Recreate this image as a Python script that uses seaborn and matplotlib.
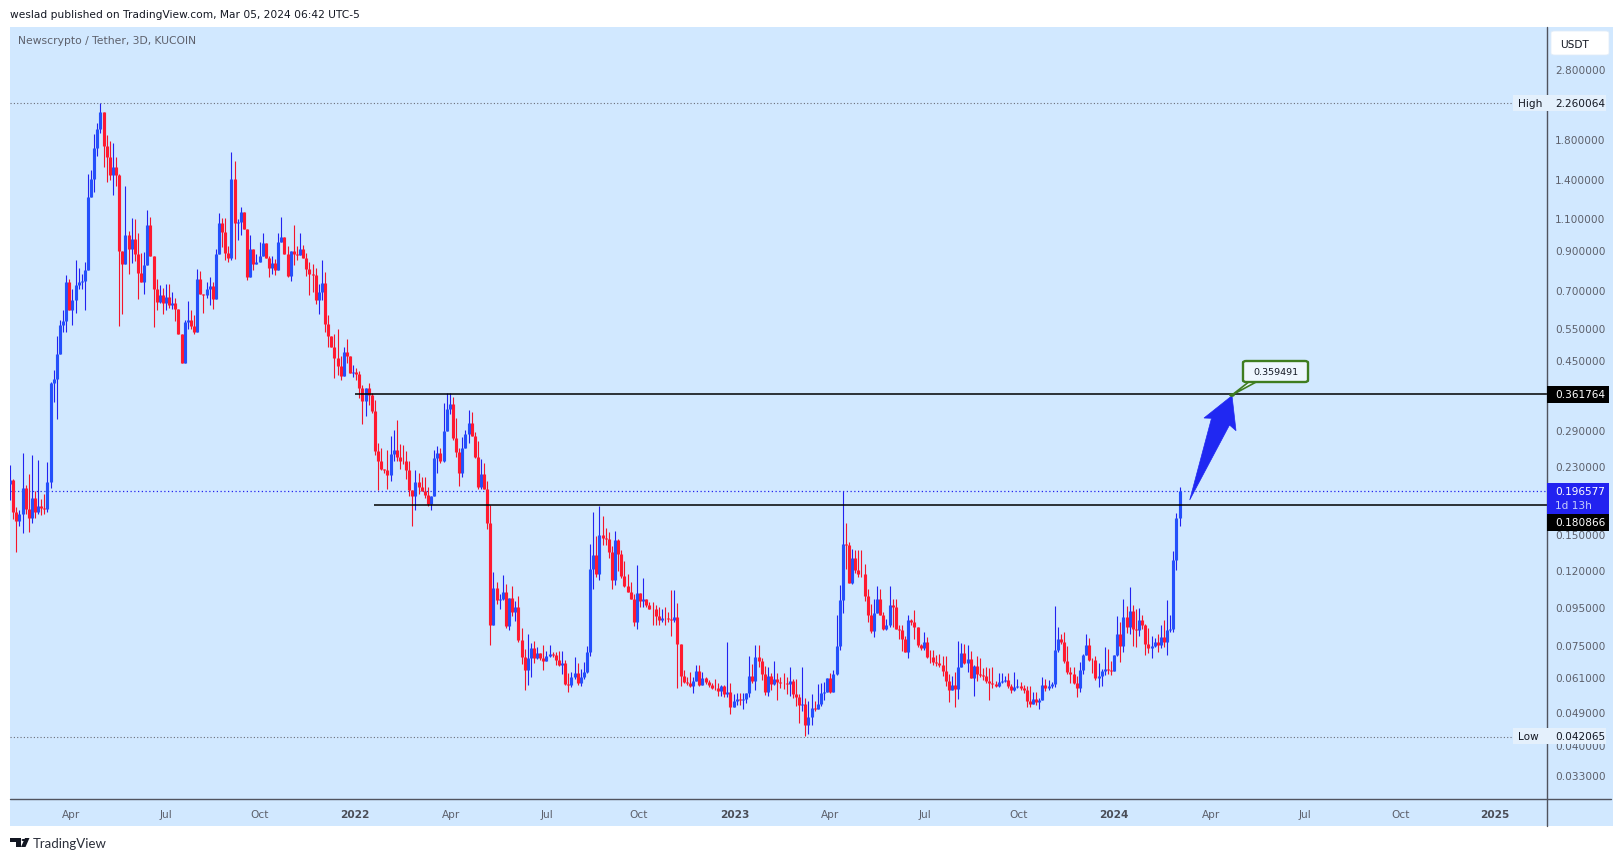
import matplotlib
matplotlib.use("Agg")
import matplotlib.pyplot as plt
import matplotlib.dates as mdates
from matplotlib.patches import Rectangle, FancyBboxPatch, Polygon, Circle
from matplotlib.lines import Line2D
import numpy as np
import pandas as pd
import seaborn as sns

# ---------- data ----------
last_bar = "2024-03-04"
first_open = 0.2055
closes = [
 .2106,.1729,.1635,.1707,.2006,.1762,.1666,.1889,.1729,.1788,
 .1770,.1765,.2085,.3893,.3979,.4672,.5617,.5733,.7335,.6165,
 .6557,.7208,.7335,.7381,.7920,1.2496,1.4035,1.70,1.9275,2.1355,
 1.725,1.610,1.435,1.51,1.435,.8945,.8225,.9875,.901,.9635,
 .875,.777,.7335,.8163,1.05,.8655,.7015,.6473,.6755,.6415,
 .6697,.6363,.6447,.6206,.5287,.4423,.5700,.5775,.5577,.5375,
 .7497,.6805,.6780,.7015,.7135,.6606,.8743,1.0628,1.0083,.8825,
 .8545,1.4055,1.0610,1.0695,1.14,1.0265,.7575,.9033,.8225,.831,
 .8655,.9377,.8525,.801,.8277,.792,.942,.9745,.875,.7645,
 .8945,.875,.8695,.9033,.8525,.7955,.77,.7665,.6534,.6913,
 .73,.5628,.5233,.4865,.4558,.4316,.4070,.4723,.4607,.4138,
 .4155,.4104,.3765,.3464,.3765,.3605,.3260,.2537,.2386,.2266,
 .2252,.2184,.2488,.2558,.2435,.2383,.2373,.2252,.1988,.1915,
 .2092,.2020,.1967,.1923,.1812,.1915,.2422,.2509,.2383,.2867,
 .3306,.3402,.2745,.2525,.2203,.2590,.2819,.3024,.2790,.2443,
 .2020,.2195,.1993,.1610,.0850,.1073,.0993,.1002,.1045,.0841,
 .1003,.0920,.0950,.0773,.0695,.0641,.0690,.0735,.0690,.0713,
 .0688,.0675,.0697,.0709,.0702,.0680,.0659,.0666,.0584,.0580,
 .0611,.0627,.0589,.0611,.0630,.0716,.1203,.1314,.1166,.1491,
 .1470,.1459,.1340,.1125,.1444,.1330,.1155,.1083,.1042,.1002,
 .0862,.1035,.0987,.1001,.0960,.0941,.0937,.0899,.0875,.0889,
 .0887,.0883,.0876,.0894,.0755,.0615,.0593,.0590,.0578,.0595,
 .0637,.0583,.0606,.0593,.0582,.0572,.0570,.0559,.0579,.0549,
 .0557,.0507,.0526,.0531,.0529,.0531,.0553,.0616,.0597,.0695,
 .0678,.0625,.0558,.0615,.0584,.0604,.0593,.0589,.0588,.0584,
 .0595,.0549,.0540,.0514,.0516,.0451,.0475,.0502,.0500,.0516,
 .0553,.0557,.0607,.0557,.0625,.0745,.0992,.1413,.1402,.1105,
 .1297,.1198,.1170,.1167,.1018,.0904,.0819,.0916,.1000,.0904,
 .0827,.0851,.0960,.0950,.0827,.0821,.0776,.0717,.0873,.0862,
 .0836,.0750,.0732,.0763,.0695,.0692,.0674,.0666,.0658,.0637,
 .0597,.0562,.0580,.0568,.0650,.0711,.0669,.0686,.0607,.0654,
 .0625,.0618,.0617,.0597,.0589,.0586,.0579,.0593,.0597,.0601,
 .0579,.0564,.0573,.0577,.0572,.0564,.0526,.0516,.0531,.0523,
 .0529,.0583,.0572,.0579,.0585,.0725,.0776,.0763,.0675,.0630,
 .0625,.0589,.0572,
 .0639,.0701,.0750,.0682,.0680,.0606,.0616,.0635,.0642,.0639,
 .0635,.0704,.0804,.0743,.0890,.0838,.0927,.0826,.0823,.0876,
 .0847,.0755,.0732,.0745,.0763,.0750,.0788,.0764,.0823,.0826,
 .1280,.1665,.1966]
highs = [
 .2315,.2120,.1781,.1745,.2497,.2052,.2188,.2467,.1973,.2400,
 .1873,.1935,.2360,.391,.4207,.523,.577,.6145,.768,.7466,
 .7015,.8447,.8003,.7714,.8301,1.449,1.487,1.866,1.995,2.26,
 2.1355,1.852,1.78,1.765,1.615,1.45,.8945,1.343,1.01,1.10,
 1.09,1.0,.880,.8845,1.155,1.102,.8655,.7466,.7208,.705,
 .7225,.7255,.688,.6645,.6206,.5287,.5775,.6505,.6145,.5955,
 .7977,.7857,.6805,.7335,.7583,.7335,.9027,1.131,1.0955,1.0955,
 .923,1.6646,1.57,1.0925,1.1735,1.14,1.0265,.984,.9033,.875,
 .942,1.0,.9377,.8655,.8655,.8485,1.0,1.102,.9745,.923,
 .8945,1.05,.92,.996,.929,.8825,.831,.8225,.804,.7255,
 .8447,.784,.5955,.5233,.5287,.545,.4595,.4875,.5122,.4607,
 .4346,.428,.4195,.3832,.3765,.3895,.3660,.3497,.2672,.2577,
 .2266,.2554,.2790,.2900,.3077,.2655,.2640,.2537,.2383,.1988,
 .2252,.2203,.2147,.2147,.2020,.1915,.2554,.2618,.2590,.3438,
 .3647,.3647,.3550,.3122,.2590,.2763,.2900,.3290,.3233,.2850,
 .2697,.2405,.2345,.2095,.1805,.1187,.1110,.1030,.1160,.1100,
 .1003,.1085,.0984,.1020,.0833,.0730,.0800,.0758,.0766,.0738,
 .0711,.0749,.0720,.0749,.0716,.0716,.0719,.0719,.0680,.0627,
 .0633,.0695,.0668,.0643,.0674,.0745,.1411,.1727,.1487,.1793,
 .1681,.1563,.1519,.1391,.1528,.1459,.1357,.1272,.1168,.1113,
 .1029,.1238,.1002,.1137,.1001,.0982,.0982,.0960,.0950,.0941,
 .0953,.0921,.1056,.1056,.0976,.0755,.0640,.0610,.0633,.0610,
 .0659,.0659,.0633,.0611,.0600,.0589,.0604,.0589,.0582,.0582,
 .0763,.0589,.0549,.0553,.0553,.0553,.0553,.0699,.0662,.0750,
 .0750,.0690,.0657,.0653,.0627,.0678,.0627,.0610,.0627,.0610,
 .0650,.0603,.0603,.0551,.0650,.0537,.0527,.0551,.0526,.0586,
 .0590,.0592,.0607,.0627,.0640,.0902,.1089,.1977,.1610,.1426,
 .1367,.1358,.1356,.1356,.1244,.1064,.0966,.1000,.1083,.1062,
 .0922,.0880,.1083,.1001,.1001,.0851,.0851,.0790,.0902,.0880,
 .0930,.0840,.0755,.0811,.0788,.0723,.0727,.0703,.0708,.0697,
 .0697,.0625,.0615,.0631,.0766,.0758,.0755,.0750,.0719,.0660,
 .0699,.0691,.0646,.0650,.0646,.0650,.0597,.0626,.0626,.0615,
 .0626,.0585,.0631,.0605,.0593,.0580,.0579,.0579,.0558,.0558,
 .0535,.0611,.0604,.0600,.0593,.0955,.0840,.0801,.0810,.0745,
 .0650,.0650,.0617,
 .0674,.0705,.0801,.0784,.0690,.0698,.0669,.0645,.0741,.0731,
 .0675,.0704,.0899,.0862,.1000,.0955,.1076,.0965,.0940,.0943,
 .0903,.0852,.0834,.0793,.0784,.0804,.0847,.0875,.0990,.0903,
 .1352,.1720,.2015]
lows = [
 .1858,.1648,.1345,.1585,.1514,.1707,.1526,.1608,.1668,.1707,
 .170,.1707,.173,.2005,.345,.310,.4672,.536,.536,.6165,
 .5617,.605,.7015,.7045,.614,1.137,1.286,1.29,1.62,1.87,
 1.516,1.377,1.39,1.27,1.34,.556,.599,.8225,.773,.829,
 .84,.660,.7335,.680,.8163,.8655,.554,.6145,.643,.599,
 .6165,.6245,.6195,.5735,.5287,.4423,.4423,.545,.547,.528,
 .5375,.6805,.6055,.6645,.6363,.6206,.6606,.8743,.9127,.842,
 .8313,.842,.8485,.9585,.985,1.0265,.743,.7575,.792,.8225,
 .831,.8655,.8525,.7583,.7714,.768,.792,.942,.875,.758,
 .74,.8165,.845,.8695,.8525,.7645,.6755,.689,.6400,.6000,
 .656,.5375,.4875,.4865,.40,.41,.397,.407,.4400,.4138,
 .403,.397,.3527,.30,.3165,.3395,.3225,.2465,.1984,.2250,
 .2210,.2,.2095,.2380,.2380,.2266,.2330,.2124,.1906,.1583,
 .1752,.1930,.1967,.1890,.1790,.1752,.1915,.2213,.2345,.2360,
 .2867,.3204,.2720,.2448,.2036,.2156,.2590,.2672,.2780,.2430,
 .2000,.2000,.199,.1552,.0750,.0850,.0969,.0939,.0990,.0835,
 .0824,.0895,.0872,.0760,.0663,.0563,.0580,.0610,.0667,.0683,
 .0680,.0640,.0675,.0695,.0695,.0658,.0655,.0625,.0582,.0558,
 .0574,.0605,.0580,.0578,.0605,.0627,.0696,.1064,.1150,.1127,
 .1407,.1407,.1295,.1064,.1093,.1190,.1140,.1075,.1042,.1002,
 .0845,.0825,.0953,.0953,.0953,.0941,.0847,.0851,.0851,.0865,
 .0851,.0865,.0790,.0865,.0571,.0578,.0590,.0582,.0573,.0553,
 .0595,.0578,.0590,.0585,.0576,.0569,.0565,.0542,.0544,.0540,
 .0540,.0484,.0505,.0512,.0512,.0499,.0520,.0540,.0590,.0564,
 .0650,.0600,.0547,.0544,.0565,.0580,.0530,.0570,.0568,.0548,
 .0543,.0535,.0510,.0459,.0495,.0421,.0427,.0453,.0495,.0500,
 .0510,.0530,.0557,.0553,.0557,.0620,.0723,.0915,.1203,.1105,
 .1100,.1180,.1150,.1150,.0987,.0866,.0808,.0787,.0916,.0904,
 .0820,.0820,.0839,.0840,.0827,.0779,.0720,.0715,.0691,.0850,
 .0776,.0741,.0725,.0725,.0690,.0668,.0660,.0655,.0650,.0615,
 .0578,.0522,.0562,.0508,.0531,.0650,.0665,.0630,.0607,.0543,
 .0595,.0610,.0600,.0590,.0530,.0570,.0575,.0575,.0590,.0593,
 .0570,.0553,.0560,.0570,.0565,.0553,.0508,.0508,.0515,.0512,
 .0500,.0529,.0560,.0562,.0572,.0575,.0717,.0755,.0668,.0625,
 .0590,.0585,.0541,
 .0555,.0625,.0701,.0675,.0627,.0600,.0576,.0579,.0620,.0625,
 .0618,.0635,.0700,.0672,.0718,.0808,.0804,.0743,.0740,.0790,
 .0825,.0701,.0713,.0688,.0740,.0717,.0735,.0740,.0702,.0810,
 .0810,.1200,.1580]

price_ticks = [2.8,1.8,1.4,1.1,.9,.7,.55,.45,.29,.23,.15,.12,.095,.075,.061,.049,.04,.033]
time_ticks = ["2021-04-03","2021-07-03","2021-10-01","2022-01-01","2022-04-03","2022-07-04",
              "2022-10-01","2023-01-01","2023-04-03","2023-07-03","2023-10-01","2024-01-01",
              "2024-04-03","2024-07-03","2024-10-03","2025-01-01"]
time_labels = ["Apr","Jul","Oct","2022","Apr","Jul","Oct","2023","Apr","Jul","Oct","2024","Apr","Jul","Oct","2025"]
level_high, level_low = 2.260064, 0.042065
level_last, level_up, level_down = 0.196577, 0.361764, 0.180866
level_up_start, level_down_start = "2022-01-01", "2022-01-19"

# ---------- frame ----------
W, H = 1623, 862
BG = "#d1e8ff"; BLUE_W = "#2222f0"; BLUE_B = "#2450fb"; RED_W = "#f5142a"; RED_B = "#ff1a30"
GREY = "#5d606b"; DARK = "#131722"
sns.set_theme(style="white")
plt.rcParams["font.family"] = ["DejaVu Sans"]

fig = plt.figure(figsize=(W/100, H/100), dpi=100, facecolor="white")
def fx(x): return x / W
def fy(y): return 1 - y / H
def P(x, y): return (fx(x), fy(y))

L, R, T, B = 10, 1547, 28, 800
fig.add_artist(Rectangle(P(L, 827), (1613-L)/W, (827-T)/H, transform=fig.transFigure,
                         fc=BG, ec="none", zorder=-5))
ax = fig.add_axes([fx(L), fy(B), (R-L)/W, (B-T)/H], facecolor="none")
ax.set_yscale("log")

n = len(closes)
dates = pd.date_range(end=last_bar, periods=n, freq="3D")
opens = [first_open] + closes[:-1]
o = np.array(opens); c = np.array(closes)
hi = np.maximum.reduce([np.array(highs), o, c])
lo = np.minimum.reduce([np.array(lows), o, c])
direction = np.where(c >= o, "up", "down")

wicks = pd.DataFrame({"date": np.r_[dates, dates], "price": np.r_[lo, hi],
                      "bar": np.r_[np.arange(n), np.arange(n)], "dir": np.r_[direction, direction]})
bodies = pd.DataFrame({"date": np.r_[dates, dates], "price": np.r_[o, c],
                       "bar": np.r_[np.arange(n), np.arange(n)], "dir": np.r_[direction, direction]})
sns.lineplot(data=wicks, x="date", y="price", units="bar", hue="dir", estimator=None, sort=False,
             palette={"up": BLUE_W, "down": RED_W}, lw=0.8, legend=False, ax=ax,
             solid_capstyle="butt", zorder=3)
sns.lineplot(data=bodies, x="date", y="price", units="bar", hue="dir", estimator=None, sort=False,
             palette={"up": BLUE_B, "down": RED_B}, lw=2.25, legend=False, ax=ax,
             solid_capstyle="butt", zorder=4)

# Scales: 1.0396 px per day, 158.97 px per log unit, from the tick positions
x0 = mdates.date2num(pd.Timestamp("2021-04-01"))
ax.set_xlim(x0 + (L - 69.3)/1.0396, x0 + (R - 69.3)/1.0396)
ylog = lambda y: np.exp(np.log(level_high) - (y - 104.2)/158.97)
ax.set_ylim(ylog(B), ylog(T))

ax.yaxis.tick_right()
ax.set_yticks(price_ticks)
ax.set_yticklabels([f"{v:.6f}" for v in price_ticks], color=GREY, fontsize=7.6)
ax.yaxis.set_minor_locator(matplotlib.ticker.NullLocator())
ax.set_xticks([mdates.date2num(pd.Timestamp(d)) for d in time_ticks])
ax.set_xticklabels(time_labels, color=GREY, fontsize=7.6)
for t in ax.get_xticklabels():
    if t.get_text().isdigit():
        t.set_fontweight("bold"); t.set_color("#4a4d57")
ax.tick_params(axis="both", length=0)
ax.tick_params(axis="y", pad=6)
ax.tick_params(axis="x", pad=7)
ax.set_xlabel(""); ax.set_ylabel("")
for s in ax.spines.values():
    s.set_visible(False)

# Level lines
dot = (0, (1, 2))
ax.axhline(level_high, xmax=(1513-L)/(R-L), color="#6a6d78", lw=0.8, ls=dot, zorder=2)
ax.axhline(level_low, xmax=(1513-L)/(R-L), color="#6a6d78", lw=0.8, ls=dot, zorder=2)
ax.axhline(level_last, color=BLUE_W, lw=0.9, ls=dot, zorder=2)
ax.hlines(level_up, mdates.date2num(pd.Timestamp(level_up_start)), ax.get_xlim()[1], color="black", lw=1.1, zorder=5)
ax.hlines(level_down, mdates.date2num(pd.Timestamp(level_down_start)), ax.get_xlim()[1], color="black", lw=1.1, zorder=5)

# Frame lines
fig.add_artist(Line2D([fx(R), fx(R)], [fy(T), fy(827)], color="#50535e", lw=1.0, zorder=2))
fig.add_artist(Line2D([fx(L), fx(1611)], [fy(B), fy(B)], color="#50535e", lw=1.0, zorder=2))

# Header / footer text
fig.text(fx(10), fy(15), "weslad published on TradingView.com, Mar 05, 2024 06:42 UTC-5",
         fontsize=7.65, color=DARK, va="center")
fig.text(fx(18), fy(41.5), "Newscrypto / Tether, 3D, KUCOIN", fontsize=7.75, color=GREY, va="center")

# Price-axis boxes
def box(x0_, y0_, x1_, y1_, fc, z=6):
    fig.add_artist(Rectangle(P(x0_, y1_), (x1_-x0_)/W, (y1_-y0_)/H, transform=fig.transFigure,
                             fc=fc, ec="none", zorder=z))
def lab(x, y, s, color, size=7.6, **kw):
    fig.text(fx(x), fy(y), s, color=color, fontsize=size, va="center", zorder=8, **kw)

VALX = 1555
box(1513, 96, 1606, 112, "#e4f0fc"); lab(1518, 104, "High", DARK); lab(VALX, 104, "2.260064", DARK)
box(1513, 729, 1606, 745, "#e4f0fc"); lab(1518, 737, "Low", DARK); lab(VALX, 737, "0.042065", DARK)
box(1547, 387, 1609, 404, "black"); lab(VALX, 395.5, "0.361764", "white")
box(1547, 484, 1609, 515, "#2222f0"); lab(VALX, 492.5, "0.196577", "white"); lab(VALX, 506, "1d 13h", "#c5cdfb")
box(1547, 515, 1609, 532, "black"); lab(VALX, 523.5, "0.180866", "white")
fig.add_artist(FancyBboxPatch(P(1551, 56), 58/W, 24/H, boxstyle="round,pad=0,rounding_size=0.002",
                              transform=fig.transFigure, fc="white", ec="#e0ecf8", lw=0.6, zorder=6))
lab(1560, 44.5, "USDT", DARK)

# Drawn arrow
fig.add_artist(Polygon([P(1189.7, 501), P(1211.5, 419.3), P(1204, 419), P(1232, 396.7),
                        P(1236, 431.7), P(1229.5, 426)], closed=True, transform=fig.transFigure,
                       fc="#2028f2", ec="#2028f2", lw=0.5, zorder=7))
# Callout
GREEN = "#3f7d20"
fig.add_artist(Polygon([P(1232, 396), P(1250, 382), P(1258, 382)], closed=True, transform=fig.transFigure,
                       fc="#eef6ff", ec=GREEN, lw=1.2, zorder=7))
fig.add_artist(FancyBboxPatch(P(1243, 383), 65/W, 21/H, boxstyle="round,pad=0,rounding_size=0.002",
                              transform=fig.transFigure, fc="#eef6ff", ec=GREEN, lw=1.7, zorder=7))
lab(1275.5, 372.5, "0.359491", DARK, size=6.8, ha="center", fontweight="medium")
fig.add_artist(Circle(P(1232, 396), 0.0013, transform=fig.transFigure, fc=GREEN, ec=GREEN, zorder=8))

# Logo
logo = "#131722"
fig.add_artist(Polygon([P(10, 839), P(21, 839), P(21, 848), P(15.5, 848), P(15.5, 842.5), P(10, 842.5)],
                       closed=True, transform=fig.transFigure, fc=logo, ec="none", zorder=7))
fig.add_artist(Circle(P(23.5, 841), 0.0012, transform=fig.transFigure, fc=logo, ec="none", zorder=7))
fig.add_artist(Polygon([P(25, 839), P(29.5, 839), P(25.5, 848), P(21, 848)], closed=True,
                       transform=fig.transFigure, fc=logo, ec="none", zorder=7))
fig.text(fx(33), fy(844), "TradingView", fontsize=9.5, family="Lato", color="#2a2e39", va="center")

fig.savefig("out.png", dpi=100, facecolor="white")
